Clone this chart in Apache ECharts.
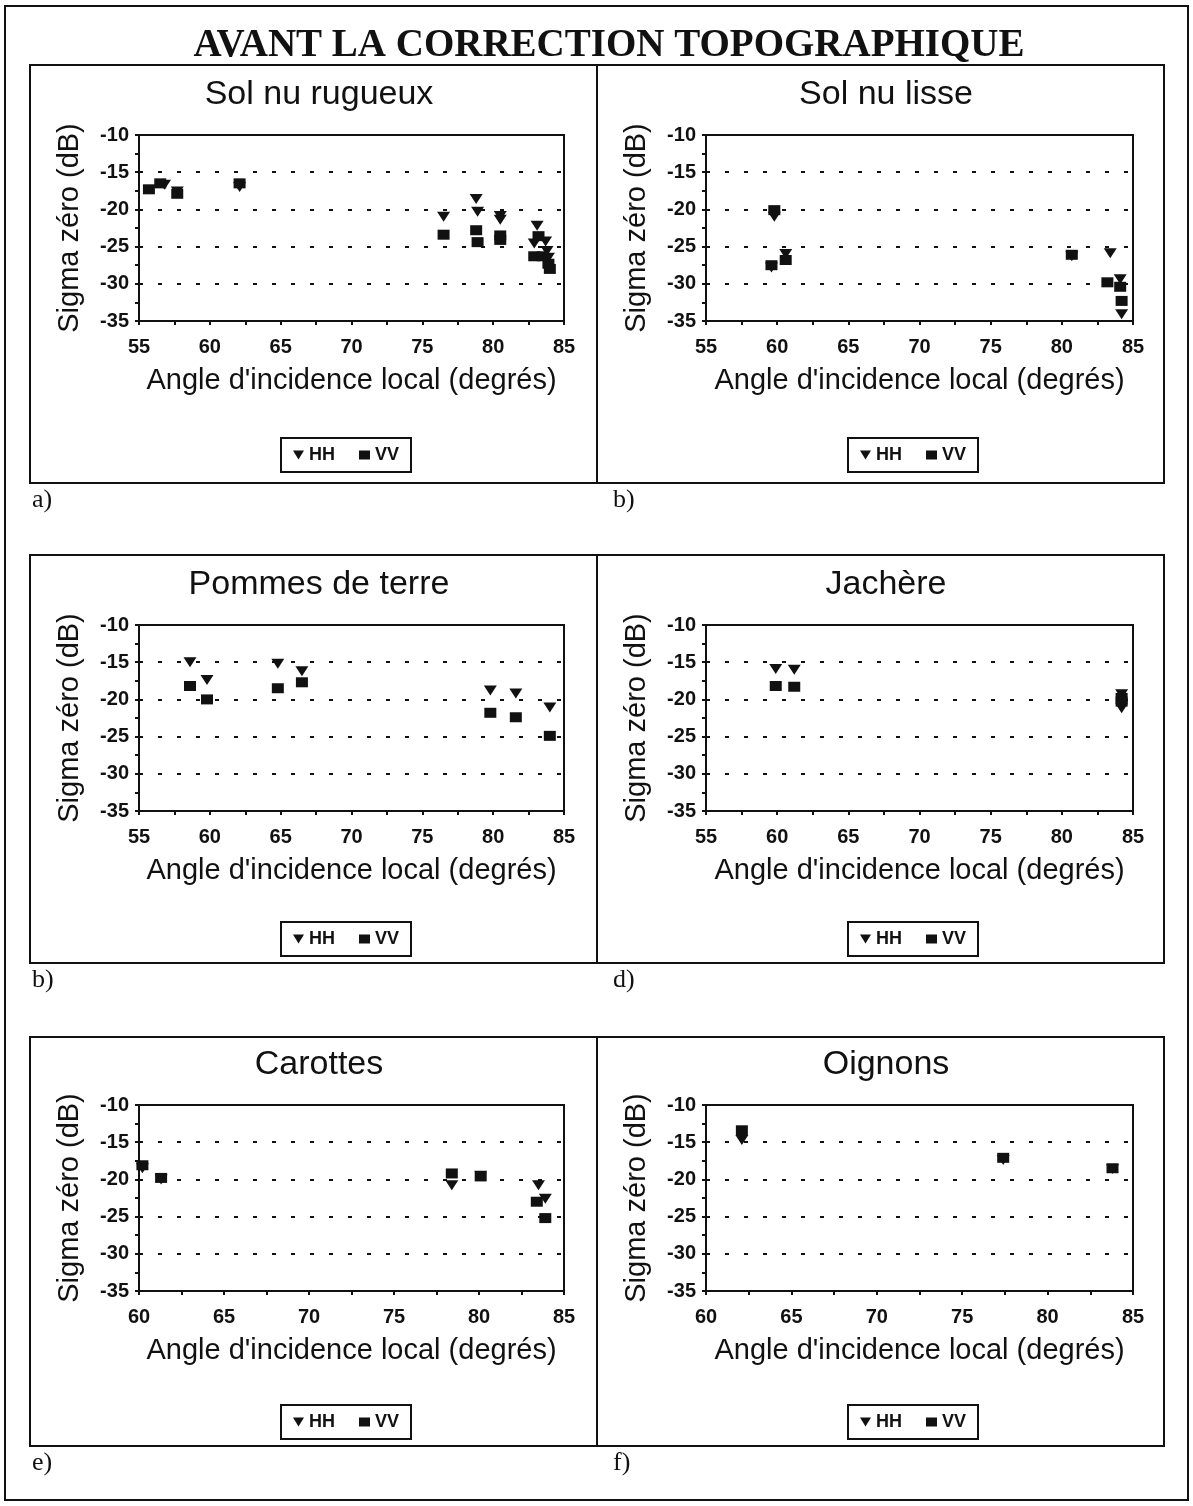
<!DOCTYPE html>
<html>
<head>
<meta charset="utf-8">
<title>Avant la correction topographique</title>
<script src="https://cdn.jsdelivr.net/npm/echarts@6/dist/echarts.min.js"></script>
<style>
html, body { margin: 0; padding: 0; background: #fff; }
#main { width: 1193px; height: 1506px; }
</style>
</head>
<body>
<div id="main"></div>
<script>
// titres des graphiques
var titles = ['Sol nu rugueux', 'Sol nu lisse', 'Pommes de terre', 'Jachère', 'Carottes', 'Oignons'];
var letters = ['a)', 'b)', 'b)', 'd)', 'e)', 'f)'];
// bornes de l'axe des angles
var xMins = [55, 55, 55, 55, 60, 60];
var xMax = 85;
var yTicks = [-35, -10];

// Sol nu rugueux
var rugueuxHH = [[56.8, -16.7], [57.7, -17.6], [62.1, -17.0], [76.5, -21.0], [78.8, -18.6], [78.9, -20.3], [80.5, -20.9], [80.5, -21.4], [83.1, -22.2], [82.9, -24.6], [83.7, -24.3], [83.8, -25.6], [83.9, -26.5]];
var rugueuxVV = [[55.7, -17.3], [56.5, -16.5], [57.7, -17.9], [62.1, -16.5], [76.5, -23.4], [78.8, -22.8], [78.9, -24.4], [80.5, -23.5], [80.5, -24.1], [83.2, -23.6], [82.9, -26.3], [83.5, -26.3], [83.9, -27.3], [84.0, -28.0]];
// Sol nu lisse
var lisseHH = [[59.8, -21.0], [59.6, -27.8], [60.6, -26.0], [80.7, -26.3], [83.4, -25.9], [84.1, -29.4], [84.2, -34.1]];
var lisseVV = [[59.8, -20.1], [59.6, -27.5], [60.6, -26.8], [80.7, -26.1], [83.2, -29.8], [84.1, -30.4], [84.2, -32.3]];
// Pommes de terre
var pommesHH = [[58.6, -15.0], [59.8, -17.4], [64.8, -15.2], [66.5, -16.2], [79.8, -18.8], [81.6, -19.2], [84.0, -21.1]];
var pommesVV = [[58.6, -18.2], [59.8, -20.0], [64.8, -18.5], [66.5, -17.7], [79.8, -21.8], [81.6, -22.4], [84.0, -24.9]];
// Jachère
var jachereHH = [[59.9, -15.9], [61.2, -16.0], [84.2, -19.3], [84.2, -21.2]];
var jachereVV = [[59.9, -18.2], [61.2, -18.3], [84.2, -19.8], [84.2, -20.3]];
// Carottes
var carottesHH = [[60.2, -18.5], [61.3, -20.0], [78.4, -20.8], [80.1, -19.5], [83.5, -20.8], [83.9, -22.6]];
var carottesVV = [[60.2, -18.1], [61.3, -19.8], [78.4, -19.2], [80.1, -19.6], [83.4, -23.0], [83.9, -25.2]];
// Oignons
var oignonsHH = [[62.1, -14.7], [77.4, -17.4], [83.8, -18.6]];
var oignonsVV = [[62.1, -13.4], [77.4, -17.1], [83.8, -18.5]];

var hhData = [rugueuxHH, lisseHH, pommesHH, jachereHH, carottesHH, oignonsHH];
var vvData = [rugueuxVV, lisseVV, pommesVV, jachereVV, carottesVV, oignonsVV];

// mise en page (px)
var colLeft = [139, 706];
var colWidth = [425, 427];
var rowTop = [135, 625, 1105];
var boxX = [30, 597];
var boxY = [65, 555, 1037];
var boxH = [418, 408, 409];
var legendUp = [45, 41, 41];

var chart = echarts.init(document.getElementById('main'));

var grids = [], xAxes = [], yAxes = [], series = [], titleList = [], legends = [], graphics = [];
var ink = '#111';

// cadre extérieur
graphics.push({
    type: 'rect',
    shape: { x: 5, y: 6, width: 1183, height: 1494 },
    style: { fill: 'none', stroke: ink, lineWidth: 2 }
});

titleList.push({
    text: 'AVANT LA CORRECTION TOPOGRAPHIQUE',
    left: 604,
    top: 21,
    textAlign: 'center',
    textStyle: { fontFamily: 'Liberation Serif', fontWeight: 'bold', fontSize: 39, color: ink }
});

for (var i = 0; i < 6; i++) {
    var col = i % 2;
    var row = Math.floor(i / 2);
    var gLeft = colLeft[col];
    var gTop = rowTop[row];

    // cadre du panneau
    graphics.push({
        type: 'rect',
        shape: { x: boxX[col], y: boxY[row], width: 567, height: boxH[row] },
        style: { fill: 'none', stroke: ink, lineWidth: 2 }
    });
    graphics.push({
        type: 'text',
        left: boxX[col] + 2 + col * 14,
        top: boxY[row] + boxH[row] + 4,
        style: { text: letters[i], font: '26px "Liberation Serif"', fill: ink }
    });

    titleList.push({
        text: titles[i],
        left: boxX[col] + 284,
        top: gTop - 62,
        textAlign: 'center',
        textStyle: { fontFamily: 'Liberation Sans', fontWeight: 'normal', fontSize: 34, color: ink }
    });

    grids.push({
        left: gLeft,
        top: gTop,
        width: colWidth[col],
        height: 186,
        show: true,
        borderColor: ink,
        borderWidth: 2,
        backgroundColor: '#fff'
    });

    xAxes.push({
        type: 'value',
        gridIndex: i,
        min: xMins[i],
        max: xMax,
        interval: 5,
        name: "Angle d'incidence local (degrés)",
        nameLocation: 'middle',
        nameGap: 45,
        nameTextStyle: { fontFamily: 'Liberation Sans', fontSize: 29, color: ink },
        axisLine: { lineStyle: { color: ink, width: 2 } },
        axisTick: { length: 4, lineStyle: { color: ink, width: 2 } },
        minorTick: { show: true, splitNumber: 2, length: 4, lineStyle: { color: ink, width: 2 } },
        axisLabel: { fontFamily: 'Liberation Sans', fontWeight: 'bold', fontSize: 20, color: ink, margin: 16 },
        splitLine: { show: false }
    });

    yAxes.push({
        type: 'value',
        gridIndex: i,
        min: yTicks[0],
        max: yTicks[1],
        interval: 5,
        name: 'Sigma zéro (dB)',
        nameLocation: 'middle',
        nameGap: 55,
        nameTextStyle: { fontFamily: 'Liberation Sans', fontSize: 29, color: ink },
        axisLine: { lineStyle: { color: ink, width: 2 } },
        axisTick: { length: 4, lineStyle: { color: ink, width: 2 } },
        minorTick: { show: true, splitNumber: 2, length: 4, lineStyle: { color: ink, width: 2 } },
        axisLabel: { fontFamily: 'Liberation Sans', fontWeight: 'bold', fontSize: 20, color: ink, margin: 10 },
        splitLine: { show: true, lineStyle: { color: ink, width: 2, type: [4, 15] } }
    });

    series.push({
        name: 'HH',
        type: 'scatter',
        xAxisIndex: i,
        yAxisIndex: i,
        symbol: 'path://M0,0L10,0L5,8Z',
        symbolSize: [13, 10],
        itemStyle: { color: ink, opacity: 1 },
        data: hhData[i]
    });
    series.push({
        name: 'VV',
        type: 'scatter',
        xAxisIndex: i,
        yAxisIndex: i,
        symbol: 'rect',
        symbolSize: [12, 10],
        itemStyle: { color: ink, opacity: 1 },
        data: vvData[i]
    });

    legends.push({
        data: [
            { name: 'HH', icon: 'path://M0,0L10,0L5,8Z' },
            { name: 'VV', icon: 'rect' }
        ],
        left: boxX[col] + 251,
        top: boxY[row] + boxH[row] - legendUp[row],
        orient: 'horizontal',
        itemWidth: 11,
        itemHeight: 9,
        itemGap: 24,
        padding: [8, 12],
        borderColor: ink,
        borderWidth: 2,
        selectedMode: false,
        textStyle: { fontFamily: 'Liberation Sans', fontWeight: 'bold', fontSize: 18, color: ink }
    });
}

var option = {
    backgroundColor: '#fff',
    animation: false,
    title: titleList,
    legend: legends,
    grid: grids,
    xAxis: xAxes,
    yAxis: yAxes,
    series: series,
    graphic: graphics
};

chart.setOption(option);
</script>
</body>
</html>
